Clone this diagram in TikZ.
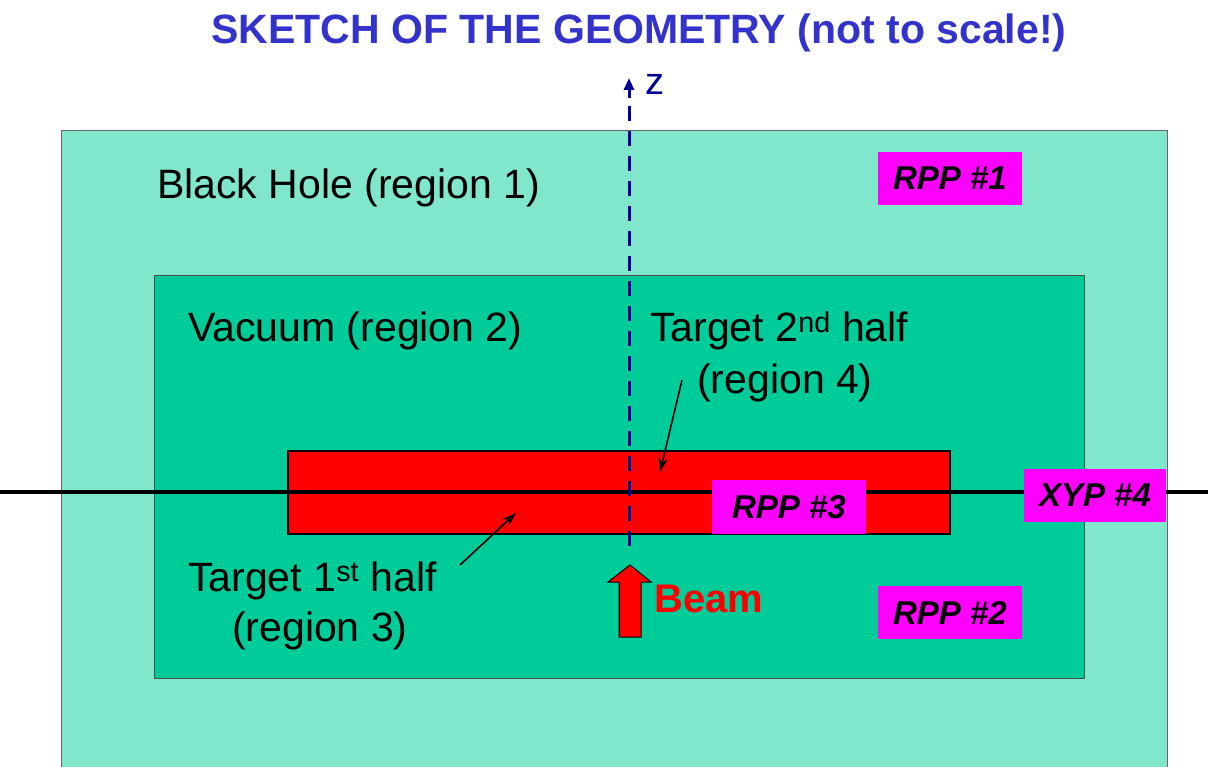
\documentclass[tikz,border=0pt]{standalone}
\usepackage{fontspec}
\setmainfont{Liberation Sans}
\usetikzlibrary{arrows.meta}
\definecolor{outerc}{HTML}{80E6CC}
\definecolor{innerc}{HTML}{00CC99}
\definecolor{titlec}{HTML}{3333CC}
\definecolor{axisc}{HTML}{000099}
\definecolor{magc}{HTML}{FF00FF}
\definecolor{redc}{HTML}{FF0000}
\tikzset{
  big/.style={font=\fontsize{41}{49}\selectfont, inner sep=0pt},
  lbl/.style={big, anchor=base west},
  tag/.style={fill=magc, draw=none, font=\fontsize{33}{40}\selectfont\bfseries\itshape, inner sep=0pt},
  ptr/.style={-{Stealth[length=14pt,width=9pt]}, line width=1.6pt, black}
}
\begin{document}
\begin{tikzpicture}[x=1pt,y=-1pt]
\useasboundingbox (0,0) rectangle (1208,767);
% regions
\fill[outerc] (61,131) rectangle (1167,780);
\draw[gray!80!black, line width=1pt] (61,780) -- (61,131) -- (1167,131) -- (1167,780);
\filldraw[fill=innerc, draw=black!70, line width=1pt] (154,276) rectangle (1084,678);
\filldraw[fill=redc, draw=black, line width=1.5pt] (288,451) rectangle (950,534);
% beam axis line
\coordinate (L) at (0,492);
\coordinate (R) at (1208,492);
\draw[black, line width=3.2pt] (L) -- (R);
% tags
\node[tag, minimum width=144pt, minimum height=53pt] (rpp1) at (950,178.5) {RPP \#1};
\node[tag, minimum width=154pt, minimum height=54pt] (rpp3) at (789,507) {RPP \#3};
\node[tag, minimum width=142pt, minimum height=53pt] (xyp4) at (1095,495.5) {XYP \#4};
\node[tag, minimum width=144pt, minimum height=53pt] (rpp2) at (950,612.5) {RPP \#2};
% z axis
\coordinate (zb) at (629,546);
\coordinate (zt) at (629,78);
\draw[axisc, line width=3pt, dash pattern=on 15pt off 10pt] (zb) -- (629,96);
\draw[axisc, line width=3pt, -{Triangle[length=12pt,width=10pt]}] (629,98) -- (zt);
\node[big, anchor=base west, text=axisc, font=\fontsize{38}{44}\selectfont] (z) at (645,95) {z};
% title
\node[big, anchor=base, text=titlec, font=\fontsize{41}{49}\selectfont\bfseries] (title) at (639,44) {SKETCH OF THE GEOMETRY (not to scale!)};
% labels
\node[lbl] (bh) at (157,199) {Black Hole (region 1)};
\node[lbl] (vac) at (188,342) {Vacuum (region 2)};
\node[lbl] (t2a) at (650,342) {Target 2\textsuperscript{nd} half};
\node[lbl] (t2b) at (697,394) {(region 4)};
\node[lbl] (t1a) at (188,591) {Target 1\textsuperscript{st} half};
\node[lbl] (t1b) at (232,641) {(region 3)};
% pointers
\coordinate (p2) at (660,472);
\coordinate (p1) at (516,513);
\draw[ptr] (682,380) -- (p2);
\draw[ptr] (460,565) -- (p1);
% beam arrow
\filldraw[fill=redc, draw=black, line width=1pt] (630,565) -- (651,582) -- (641,582) -- (641,637) -- (619,637) -- (619,582) -- (608,582) -- cycle;
\node[lbl, text=redc, font=\fontsize{40}{48}\selectfont\bfseries] (beam) at (654,612) {Beam};
\end{tikzpicture}
\end{document}
